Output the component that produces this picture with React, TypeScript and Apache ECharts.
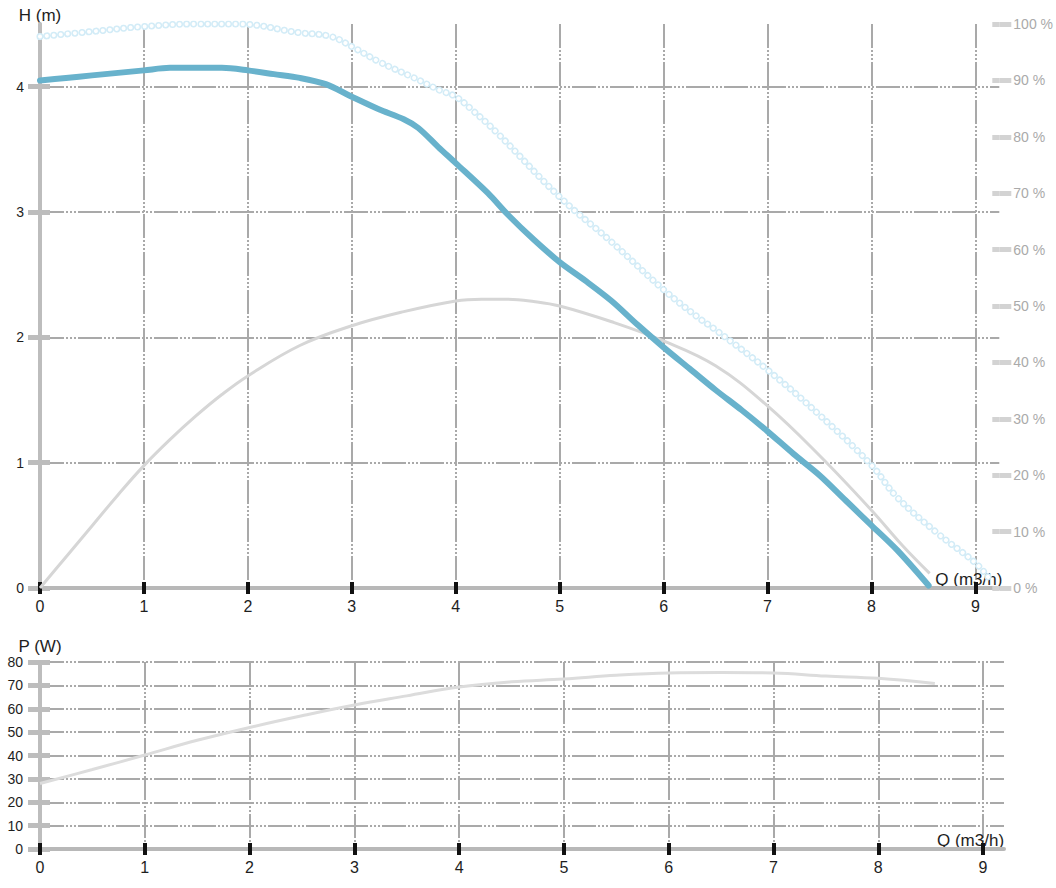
import React, { useEffect, useRef } from "react";
import * as echarts from "echarts";

// Head curve (m) vs flow Q (m3/h)
const Q_HEAD = [0, 0.25, 0.5, 0.75, 1, 1.25, 1.5, 1.75, 2, 2.25, 2.5, 2.75, 3, 3.26, 3.5, 3.64, 3.83, 4, 4.31, 4.5, 4.75, 5, 5.25, 5.5, 5.75, 6, 6.25, 6.5, 6.75, 7, 7.25, 7.5, 7.75, 8, 8.25, 8.55];
const HEAD = [4.05, 4.07, 4.09, 4.11, 4.13, 4.15, 4.15, 4.15, 4.13, 4.1, 4.07, 4.02, 3.92, 3.82, 3.74, 3.67, 3.52, 3.39, 3.15, 2.98, 2.78, 2.6, 2.45, 2.29, 2.1, 1.92, 1.75, 1.58, 1.42, 1.25, 1.07, 0.9, 0.7, 0.5, 0.3, 0.02];

// Max-speed head curve (m), drawn as hollow dots
const Q_MAXHEAD = [0, 0.5, 1, 1.5, 1.9, 2.5, 2.8, 3, 3.26, 3.6, 3.85, 4, 4.15, 4.4, 5, 5.5, 6, 6.33, 6.5, 7, 7.5, 8, 8.24, 8.63, 9, 9.13];
const MAXHEAD = [4.4, 4.44, 4.48, 4.5, 4.5, 4.43, 4.4, 4.32, 4.2, 4.07, 3.97, 3.92, 3.82, 3.63, 3.12, 2.76, 2.38, 2.16, 2.06, 1.74, 1.38, 0.98, 0.73, 0.44, 0.2, 0.08];

// Efficiency (%) vs flow
const Q_EFF = [0, 0.25, 0.5, 0.75, 1, 1.25, 1.5, 1.75, 2, 2.5, 3, 3.5, 4, 4.25, 4.5, 4.75, 5, 5.5, 6, 6.5, 7, 7.5, 8, 8.3, 8.56];
const EFF = [0, 5.5, 11, 16.5, 21.7, 26.3, 30.5, 34.3, 37.6, 43, 46.5, 49, 50.9, 51.2, 51.2, 50.8, 50, 47.2, 43.8, 39.4, 32.3, 23.5, 13.8, 7.5, 2.6];

// Power (W) vs flow
const Q_POWER = [0, 0.5, 1, 1.5, 2, 2.5, 3, 3.5, 4, 4.5, 5, 5.5, 6, 6.5, 7, 7.5, 8, 8.54];
const POWER = [28, 34, 40.2, 46.5, 52, 57, 61.6, 65.5, 69.3, 71.5, 72.7, 74.3, 75.3, 75.5, 75.3, 74, 73, 70.8];

// Tick labels
const Q_TICKS = [0, 1, 2, 3, 4, 5, 6, 7, 8, 9];
const H_TICKS = [0, 1, 2, 3, 4];

const zip = (xs: number[], ys: number[]) => xs.map((x, i) => [x, ys[i]]);

const FONT = "'Liberation Sans', Arial, sans-serif";
const TXT = "#1e1e1e";

const gridLine = {
  show: true,
  lineStyle: { color: "#a9a9a9", width: 2, type: [24, 2, 2, 2, 2, 2, 2, 2] as any },
};

function buildOption(): any {
  const xMain = (grid: number, max: number, gap: number) => ({
    type: "value",
    gridIndex: grid,
    position: "bottom",
    min: 0,
    max,
    interval: 1,
    axisLine: { show: true, onZero: false, lineStyle: { color: "#b8b8b8", width: 4 } },
    axisTick: { show: true, customValues: Q_TICKS, length: 6, lineStyle: { color: "#111", width: 4 } },
    axisLabel: { customValues: Q_TICKS, margin: 10, fontSize: 16, color: TXT, fontFamily: FONT },
    splitLine: gridLine,
    name: "Q (m3/h)",
    nameLocation: "end",
    nameGap: gap,
    nameTextStyle: { fontSize: 17, color: TXT, fontFamily: FONT, align: "left", verticalAlign: "bottom", lineHeight: 18 },
  });
  const xInner = (grid: number, max: number) => ({
    type: "value",
    gridIndex: grid,
    position: "bottom",
    min: 0,
    max,
    interval: 1,
    axisLine: { show: false, onZero: false },
    axisTick: { show: true, inside: true, customValues: Q_TICKS, length: 6, lineStyle: { color: "#111", width: 4 } },
    axisLabel: { show: false },
    splitLine: { show: false },
  });

  return {
    animation: false,
    grid: [
      { left: 40, right: 53, top: 24, height: 564 },
      { left: 40, right: 52, top: 662, height: 187 },
    ],
    xAxis: [xMain(0, 9.23, -64), xInner(0, 9.23), xMain(1, 9.2, -67), xInner(1, 9.2)],
    yAxis: [
      {
        type: "value",
        gridIndex: 0,
        position: "left",
        min: 0,
        max: 4.5,
        interval: 1,
        axisLine: { show: true, onZero: false, lineStyle: { color: "#bdbdbd", width: 4 } },
        axisTick: { show: true, customValues: H_TICKS, length: 12, lineStyle: { color: "#bdbdbd", width: 5 } },
        axisLabel: { customValues: H_TICKS, margin: 16, fontSize: 14, color: TXT, fontFamily: FONT, padding: [0, 0, 4, 0] },
        splitLine: gridLine,
        name: "H (m)",
        nameLocation: "end",
        nameGap: 0,
        nameTextStyle: { fontSize: 17, color: TXT, fontFamily: FONT },
      },
      {
        type: "value",
        gridIndex: 0,
        position: "right",
        min: 0,
        max: 100,
        interval: 10,
        axisLine: { show: false, onZero: false },
        axisTick: { show: true, length: 12, lineStyle: { color: "#d3d3d3", width: 5 } },
        axisLabel: { formatter: "{value} %", margin: 14, fontSize: 14, color: "#aaa", fontFamily: FONT, padding: [0, 0, 5, 0] },
        splitLine: { show: false },
      },
      {
        type: "value",
        gridIndex: 0,
        position: "left",
        min: 0,
        max: 4.5,
        interval: 1,
        axisLine: { show: false, onZero: false },
        axisTick: { show: true, inside: true, customValues: H_TICKS, length: 10, lineStyle: { color: "#bdbdbd", width: 5 } },
        axisLabel: { show: false },
        splitLine: { show: false },
      },
      {
        type: "value",
        gridIndex: 1,
        position: "left",
        min: 0,
        max: 80,
        interval: 10,
        axisLine: { show: true, onZero: false, lineStyle: { color: "#bdbdbd", width: 4 } },
        axisTick: { show: true, length: 12, lineStyle: { color: "#bdbdbd", width: 5 } },
        axisLabel: { margin: 17, fontSize: 14, color: TXT, fontFamily: FONT, padding: [0, 0, 2, 0] },
        splitLine: gridLine,
        name: "P (W)",
        nameLocation: "end",
        nameGap: 3,
        nameTextStyle: { fontSize: 17, color: TXT, fontFamily: FONT },
      },
      {
        type: "value",
        gridIndex: 1,
        position: "left",
        min: 0,
        max: 80,
        interval: 10,
        axisLine: { show: false, onZero: false },
        axisTick: { show: true, inside: true, length: 10, lineStyle: { color: "#bdbdbd", width: 5 } },
        axisLabel: { show: false },
        splitLine: { show: false },
      },
      {
        type: "value",
        gridIndex: 0,
        position: "right",
        min: 0,
        max: 100,
        interval: 10,
        axisLine: { show: false, onZero: false },
        axisTick: { show: true, inside: true, length: 7, lineStyle: { color: "#d3d3d3", width: 5 } },
        axisLabel: { show: false },
        splitLine: { show: false },
      },
    ],
    series: [
      {
        type: "line",
        xAxisIndex: 0,
        yAxisIndex: 1,
        data: zip(Q_EFF, EFF),
        smooth: 0.4,
        symbol: "none",
        silent: true,
        lineStyle: { color: "#d6d6d6", width: 3 },
      },
      {
        type: "line",
        xAxisIndex: 0,
        yAxisIndex: 0,
        data: zip(Q_MAXHEAD, MAXHEAD),
        smooth: 0.4,
        symbol: "none",
        silent: true,
        lineStyle: { color: "#d3ecf7", width: 7, type: [0.01, 7] as any, cap: "round" },
      },
      {
        type: "line",
        xAxisIndex: 0,
        yAxisIndex: 0,
        data: zip(Q_MAXHEAD, MAXHEAD),
        smooth: 0.4,
        symbol: "none",
        silent: true,
        lineStyle: { color: "#ffffff", width: 4, type: [0.01, 7] as any, cap: "round" },
      },
      {
        type: "line",
        xAxisIndex: 0,
        yAxisIndex: 0,
        data: zip(Q_HEAD, HEAD),
        smooth: 0.3,
        symbol: "none",
        silent: true,
        lineStyle: { color: "#68b2cc", width: 6, cap: "round" },
      },
      {
        type: "line",
        xAxisIndex: 2,
        yAxisIndex: 3,
        data: zip(Q_POWER, POWER),
        smooth: 0.4,
        symbol: "none",
        silent: true,
        lineStyle: { color: "#dcdcdc", width: 3 },
      },
    ],
  };
}

export default function App() {
  const ref = useRef<HTMLDivElement>(null);
  useEffect(() => {
    document.body.style.margin = "0";
    const chart = echarts.init(ref.current!, null, { renderer: "svg" });
    chart.setOption(buildOption());
    return () => chart.dispose();
  }, []);
  return <div ref={ref} style={{ width: 1056, height: 888 }} />;
}
